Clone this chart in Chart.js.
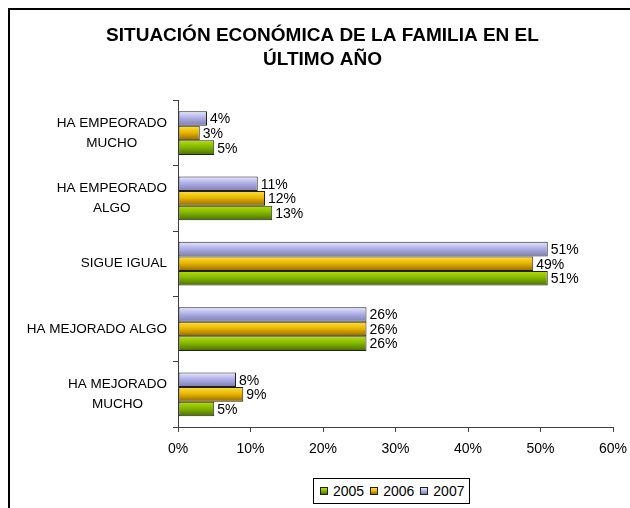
<!DOCTYPE html>
<html>
<head>
<meta charset="utf-8">
<script src="https://cdn.jsdelivr.net/npm/chart.js@4"></script>
<style>
  html, body { margin: 0; padding: 0; background: #fff; }
  #wrap { position: relative; width: 630px; height: 508px; overflow: hidden; }
  #frame { position: absolute; left: 8px; top: 8px; width: 700px; height: 600px; border: 2px solid #000; pointer-events: none; }
  #legend { position: absolute; left: 313px; top: 478px; height: 24px; border: 1px solid #000; background: #fff;
            display: flex; align-items: center; padding: 0 5px 0 6px; font: 14px "Liberation Sans", Arial, sans-serif; color: #000; }
  #legend span.item { display: flex; align-items: center; margin-right: 6px; }
  #legend span.item:last-child { margin-right: 0; }
  #legend span.box { width: 6px; height: 6px; border: 1px solid #202020; margin-right: 5px; }
</style>
</head>
<body>
<div id="wrap">
  <canvas id="econChart" width="630" height="508"></canvas>
  <div id="frame"></div>
  <div id="legend"></div>
</div>
<script>
    // categories top to bottom
    var categories = [['HA EMPEORADO', 'MUCHO'], ['HA EMPEORADO', 'ALGO'], 'SIGUE IGUAL', 'HA MEJORADO ALGO', ['HA MEJORADO', 'MUCHO']];
    var values2005 = [5, 13, 51, 26, 5];
    var values2006 = [3, 12, 49, 26, 9];
    var values2007 = [4, 11, 51, 26, 8];
    var xTicks = [0, 10, 20, 30, 40, 50, 60];

    var CAT_PCT = 0.67;
    var FONT = '"Liberation Sans", Arial, sans-serif';

    // light top -> dark bottom, like the old Excel bars
    var shades = {
        '2005': ['#b4e000', '#86b800', '#4a6e00'],
        '2006': ['#ffe040', '#eab800', '#946600'],
        '2007': ['#e8e8ff', '#b0b0e8', '#7c7cb0']
    };

    function barFill(stops) {
        return function (c) {
            var chart = c.chart, y = chart.scales.y;
            if (!chart.chartArea || !y || c.type !== 'data') return stops[1];
            var h = (y.bottom - y.top) / categories.length * CAT_PCT / 3;
            var mid = y.getPixelForValue(c.dataIndex);
            var top = mid - 1.5 * h + c.datasetIndex * h;
            var g = chart.ctx.createLinearGradient(0, top, 0, top + h);
            g.addColorStop(0, stops[0]);
            g.addColorStop(0.45, stops[1]);
            g.addColorStop(1, stops[2]);
            return g;
        };
    }

    // value labels to the right of the bars
    var valueLabels = {
        id: 'valueLabels',
        afterDatasetsDraw: function (chart) {
            var ctx = chart.ctx;
            ctx.save();
            ctx.font = '14px ' + FONT;
            ctx.fillStyle = '#000';
            ctx.textAlign = 'left';
            ctx.textBaseline = 'middle';
            chart.data.datasets.forEach(function (ds, i) {
                chart.getDatasetMeta(i).data.forEach(function (bar, j) {
                    ctx.fillText(ds.data[j] + '%', bar.x + 3, bar.y + 1);
                });
            });
            ctx.restore();
        }
    };

    // category labels: block right-aligned to the axis, lines centred in the block
    var categoryLabels = {
        id: 'categoryLabels',
        afterDraw: function (chart) {
            var ctx = chart.ctx, y = chart.scales.y;
            var right = chart.chartArea.left - 11;
            ctx.save();
            ctx.font = '13.5px ' + FONT;
            ctx.fillStyle = '#000';
            ctx.textAlign = 'center';
            ctx.textBaseline = 'middle';
            categories.forEach(function (lab, i) {
                var lines = Array.isArray(lab) ? lab : [lab];
                var w = Math.max.apply(null, lines.map(function (l) { return ctx.measureText(l).width; }));
                var cx = right - w / 2;
                var cy = y.getPixelForValue(i);
                var lh = 20;
                lines.forEach(function (l, k) {
                    ctx.fillText(l, cx, cy + (k - (lines.length - 1) / 2) * lh);
                });
            });
            ctx.restore();
        }
    };

    var ctx = document.getElementById('econChart').getContext('2d');

    var econChart = new Chart(ctx, {
        type: 'bar',
        data: {
            labels: categories,
            datasets: [
                { label: '2007', data: values2007, backgroundColor: barFill(shades['2007']) },
                { label: '2006', data: values2006, backgroundColor: barFill(shades['2006']) },
                { label: '2005', data: values2005, backgroundColor: barFill(shades['2005']) }
            ]
        },
        options: {
            indexAxis: 'y',
            responsive: false,
            animation: false,
            datasets: {
                bar: {
                    categoryPercentage: CAT_PCT,
                    barPercentage: 1,
                    borderWidth: 1,
                    borderColor: '#202020',
                    borderSkipped: false
                }
            },
            layout: {
                padding: { left: 32, right: 17, top: 8, bottom: 51 }
            },
            scales: {
                x: {
                    min: 0,
                    max: 60,
                    afterBuildTicks: function (s) { s.ticks = xTicks.map(function (v) { return { value: v }; }); },
                    afterFit: function (s) { s.height = 30; s.paddingLeft = 0; s.paddingRight = 0; },
                    grid: { drawOnChartArea: false, tickLength: 5, color: '#404040' },
                    border: { color: '#404040', width: 1 },
                    ticks: {
                        padding: 9,
                        color: '#000',
                        font: { family: FONT, size: 14 },
                        callback: function (v) { return v + '%'; }
                    }
                },
                y: {
                    afterFit: function (s) { s.width = 146; },
                    grid: { drawOnChartArea: false, offset: true, tickLength: 5, color: '#404040' },
                    border: { color: '#404040', width: 1 },
                    ticks: { display: false }
                }
            },
            plugins: {
                legend: { display: false },
                tooltip: { enabled: false },
                title: {
                    display: true,
                    text: ['SITUACIÓN ECONÓMICA DE LA FAMILIA EN EL', 'ÚLTIMO AÑO'],
                    color: '#000',
                    font: { family: FONT, size: 19, weight: 'bold', lineHeight: 1.3 },
                    padding: { top: 15, bottom: 28 }
                }
            }
        },
        plugins: [valueLabels, categoryLabels]
    });

    // legend as html, 2005 first like the original
    var legendEl = document.getElementById('legend');
    econChart.data.datasets.slice().reverse().forEach(function (ds) {
        var s = shades[ds.label];
        var item = document.createElement('span');
        item.className = 'item';
        var box = document.createElement('span');
        box.className = 'box';
        box.style.background = 'linear-gradient(' + s[0] + ',' + s[1] + ',' + s[2] + ')';
        item.appendChild(box);
        item.appendChild(document.createTextNode(ds.label));
        legendEl.appendChild(item);
    });
</script>
</body>
</html>
